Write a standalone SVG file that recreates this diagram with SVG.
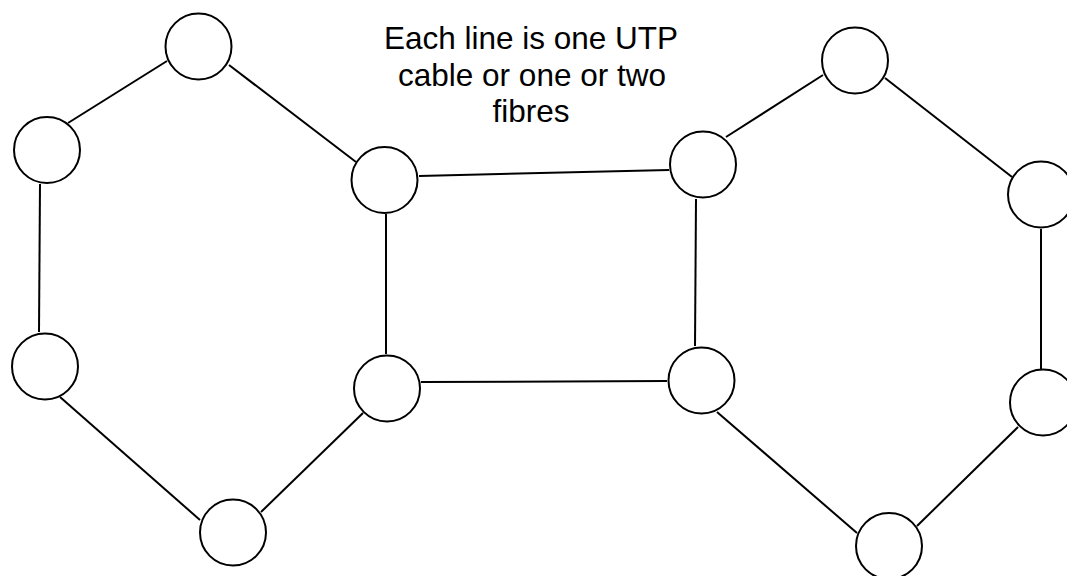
<svg xmlns="http://www.w3.org/2000/svg" width="1067" height="576" viewBox="0 0 1067 576">
<style>
.node{fill:#fff;stroke:#000;stroke-width:2}
.edge{stroke:#000;stroke-width:2;fill:none}
.lbl{font-family:"Liberation Sans",Arial,sans-serif;font-size:31.5px;fill:#000;text-anchor:middle}
</style>
<rect width="1067" height="576" fill="#fff"/>
<g id="connectors">
<line class="edge" x1="167" y1="61" x2="68" y2="123"/>
<line class="edge" x1="229" y1="65" x2="356" y2="162"/>
<line class="edge" x1="40" y1="184" x2="39" y2="332"/>
<line class="edge" x1="60" y1="397" x2="200" y2="520"/>
<line class="edge" x1="261" y1="512" x2="363" y2="413"/>
<line class="edge" x1="386" y1="214" x2="386" y2="354"/>
<line class="edge" x1="419" y1="176" x2="669" y2="170"/>
<line class="edge" x1="421" y1="382" x2="667" y2="381"/>
<line class="edge" x1="696" y1="199" x2="695" y2="346"/>
<line class="edge" x1="726" y1="137" x2="823" y2="75"/>
<line class="edge" x1="885" y1="78" x2="1012" y2="177"/>
<line class="edge" x1="1041" y1="229" x2="1041" y2="369"/>
<line class="edge" x1="1018" y1="427" x2="917" y2="526"/>
<line class="edge" x1="717" y1="412" x2="857" y2="533"/>
</g>
<g id="n1"><circle class="node" cx="198.5" cy="46.5" r="33"/></g>
<g id="n2"><circle class="node" cx="47" cy="150" r="33"/></g>
<g id="n3"><circle class="node" cx="45" cy="366.5" r="33"/></g>
<g id="n4"><circle class="node" cx="233" cy="532.5" r="33"/></g>
<g id="n5"><circle class="node" cx="384.5" cy="180" r="33"/></g>
<g id="n6"><circle class="node" cx="387" cy="388.5" r="33"/></g>
<g id="n7"><circle class="node" cx="703" cy="164.5" r="33"/></g>
<g id="n8"><circle class="node" cx="701.5" cy="380.5" r="33"/></g>
<g id="n9"><circle class="node" cx="855" cy="60.5" r="33"/></g>
<g id="n10"><circle class="node" cx="1041" cy="194.5" r="33"/></g>
<g id="n11"><circle class="node" cx="1043" cy="402.5" r="33"/></g>
<g id="n12"><circle class="node" cx="889" cy="546" r="33"/></g>
<g id="label">
<text class="lbl" x="531" y="49">Each line is one UTP</text>
<text class="lbl" x="532" y="85.5">cable or one or two</text>
<text class="lbl" x="531" y="122">fibres</text>
</g>
</svg>
